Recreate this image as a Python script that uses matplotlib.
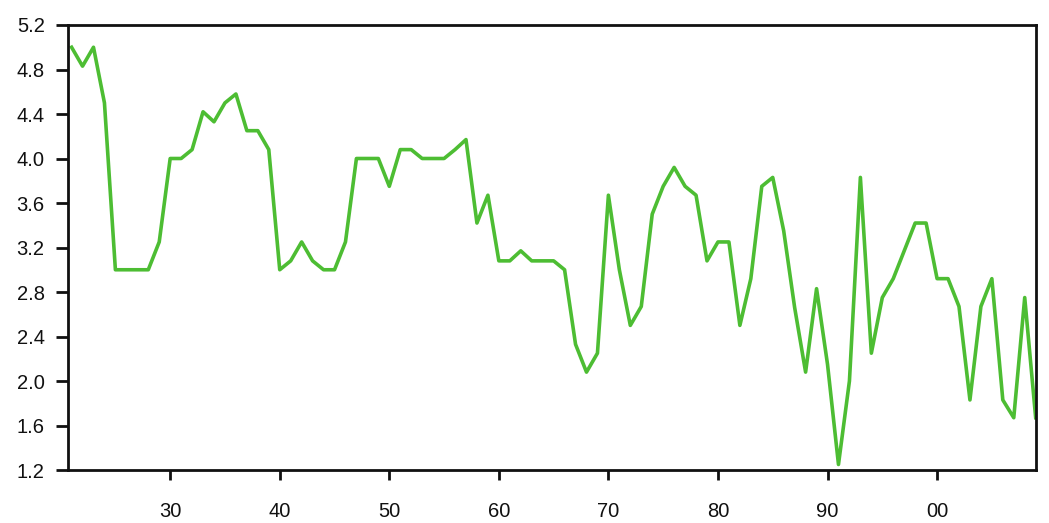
import matplotlib
matplotlib.use("Agg")
import matplotlib.pyplot as plt
import numpy as np

# Yearly series, 1921-2009
years = list(range(1921, 2010))
values = [
    5.00, 4.83, 5.00, 4.50, 3.00, 3.00, 3.00, 3.00, 3.25, 4.00,   # 1921-1930
    4.00, 4.08, 4.42, 4.33, 4.50, 4.58, 4.25, 4.25, 4.08, 3.00,   # 1931-1940
    3.08, 3.25, 3.08, 3.00, 3.00, 3.25, 4.00, 4.00, 4.00, 3.75,   # 1941-1950
    4.08, 4.08, 4.00, 4.00, 4.00, 4.08, 4.17, 3.42, 3.67, 3.08,   # 1951-1960
    3.08, 3.17, 3.08, 3.08, 3.08, 3.00, 2.33, 2.08, 2.25, 3.67,   # 1961-1970
    3.00, 2.50, 2.67, 3.50, 3.75, 3.92, 3.75, 3.67, 3.08, 3.25,   # 1971-1980
    3.25, 2.50, 2.92, 3.75, 3.83, 3.35, 2.66, 2.08, 2.83, 2.15,   # 1981-1990
    1.25, 2.00, 3.83, 2.25, 2.75, 2.92, 3.17, 3.42, 3.42, 2.92,   # 1991-2000
    2.92, 2.67, 1.83, 2.67, 2.92, 1.83, 1.67, 2.75, 1.67,         # 2001-2009
]

x_ticks = list(range(1930, 2001, 10))
y_ticks = np.arange(1.2, 5.21, 0.4)

plt.rcParams['font.family'] = ['Liberation Sans', 'DejaVu Sans']

fig = plt.figure(figsize=(10.49, 5.23), dpi=100)
ax = fig.add_axes([0.0651, 0.1013, 0.9222, 0.8509])

ax.plot(years, values, color='#4dbd33', linewidth=2.6)

ax.set_xlim(1920.7, 2009)
ax.set_ylim(1.2, 5.2)
ax.set_xticks(x_ticks)
ax.set_xticklabels([f"{y % 100:02d}" for y in x_ticks])
ax.set_yticks(y_ticks)
ax.set_yticklabels([f"{v:.1f}" for v in y_ticks])

for spine in ax.spines.values():
    spine.set_linewidth(2)
    spine.set_color('#111111')

ax.tick_params(axis='y', length=9, width=2, pad=8, labelsize=14.5, colors='#111111')
ax.tick_params(axis='x', length=7, width=2, pad=16, labelsize=14.5, colors='#111111')

fig.savefig("out.png", dpi=100)
